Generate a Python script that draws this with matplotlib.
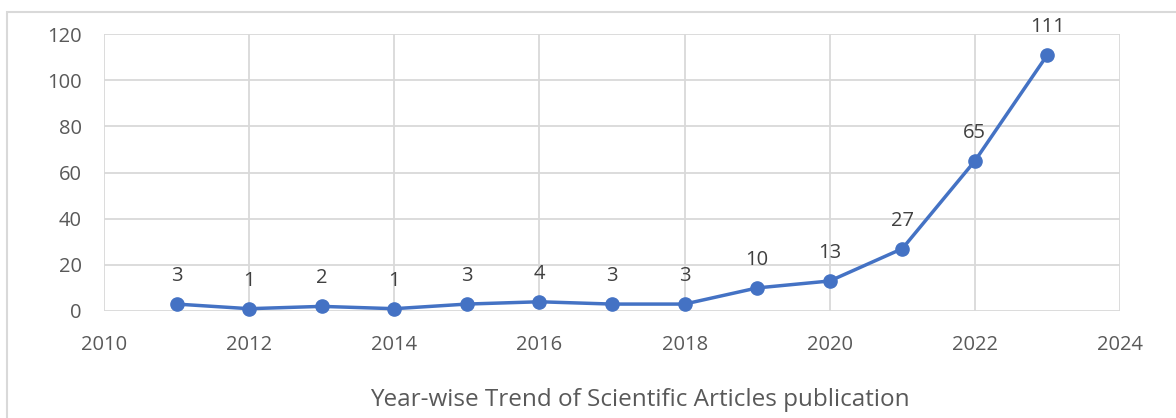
import matplotlib.pyplot as plt
from matplotlib.patches import Rectangle

years = [2011, 2012, 2013, 2014, 2015, 2016, 2017, 2018, 2019, 2020, 2021, 2022, 2023]
counts = [3, 1, 2, 1, 3, 4, 3, 3, 10, 13, 27, 65, 111]
x_ticks = [2010, 2012, 2014, 2016, 2018, 2020, 2022, 2024]
y_ticks = [0, 20, 40, 60, 80, 100, 120]
title = 'Year-wise Trend of Scientific Articles publication'

plt.rcParams['font.family'] = ['Open Sans', 'DejaVu Sans']

fig = plt.figure(figsize=(11.76, 4.18), dpi=100)
ax = fig.add_axes([104 / 1176, 1 - 311 / 418, (1120 - 104) / 1176, (311 - 34) / 418])

# chart border (light gray, runs off the right and bottom edges)
fig.patches.append(Rectangle((7 / 1176, -0.1), 1.2, 1 - 12 / 418 + 0.1,
                             transform=fig.transFigure, fill=False,
                             edgecolor='#d9d9d9', linewidth=1.5))

ax.plot(years, counts, color='#4472C4', linewidth=2.5, marker='o',
        markersize=9.5, zorder=3, clip_on=False)
for x, y in zip(years, counts):
    ax.annotate(str(y), (x, y), xytext=(0, 16.5), textcoords='offset points',
                ha='center', va='baseline', fontsize=14.5, color='#404040')

ax.set_xlim(2010, 2024)
ax.set_ylim(0, 120)
ax.set_xticks(x_ticks)
ax.set_yticks(y_ticks)
ax.grid(True, color='#d9d9d9', linewidth=1.3)
ax.set_axisbelow(True)
for s in ax.spines.values():
    s.set_visible(False)
ax.tick_params(length=0, labelsize=14.5, labelcolor='#595959')
ax.tick_params(axis='x', pad=17)
ax.tick_params(axis='y', pad=16)

fig.text(640 / 1176, 1 - 400 / 418, title, ha='center', va='center',
         fontsize=17.5, color='#595959')

fig.savefig('out.png', dpi=100)
